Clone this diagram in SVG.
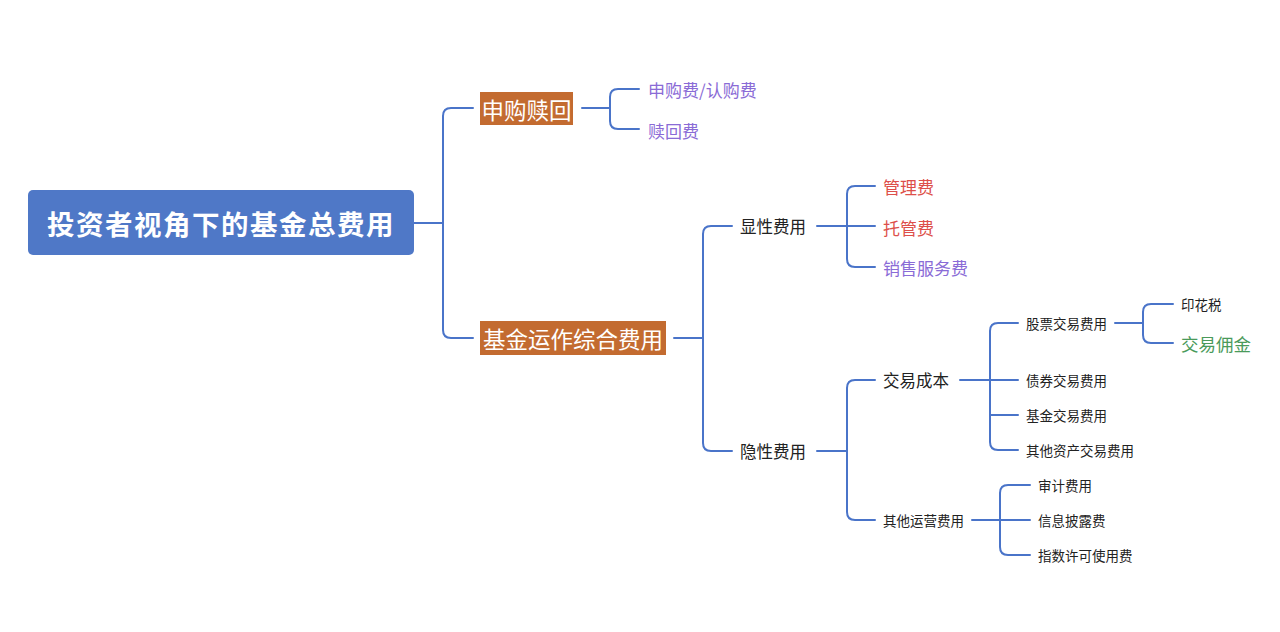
<svg xmlns="http://www.w3.org/2000/svg" width="1280" height="632" viewBox="0 0 1280 632">
<style>
.ln{fill:none;stroke:#4a74c9;stroke-width:2;stroke-linecap:round;stroke-linejoin:round}
text{font-family:"Noto Sans CJK SC","Liberation Sans",sans-serif;dominant-baseline:central}
.root{fill:#fff;font-size:27.5px;font-weight:bold;letter-spacing:1.5px}
.l1{fill:#fff;font-size:22.5px}
.l2{fill:#222;font-size:16.5px}
.l3{fill:#222;font-size:13.5px}
.pur{fill:#8a6bd6;font-size:17px}
.red{fill:#dd4f4a;font-size:17px}
.grn{fill:#4a9a5a;font-size:17.5px}
</style>
<rect width="1280" height="632" fill="#fff"/>
<g id="connectors">
<path class="ln" d="M414 223H443"/>
<path class="ln" d="M473 108H451Q443 108 443 116V330Q443 338 451 338H473"/>
<path class="ln" d="M582 108H610"/>
<path class="ln" d="M639 89H618Q610 89 610 97V121Q610 129 618 129H639"/>
<path class="ln" d="M674 338H703"/>
<path class="ln" d="M732 226H711Q703 226 703 234V443Q703 451 711 451H732"/>
<path class="ln" d="M817 226H875"/>
<path class="ln" d="M875 186H855Q847 186 847 194V259Q847 267 855 267H875"/>
<path class="ln" d="M817 451H847"/>
<path class="ln" d="M875 380H855Q847 380 847 388V512Q847 520 855 520H875"/>
<path class="ln" d="M960 380H1018"/>
<path class="ln" d="M1018 323H998Q990 323 990 331V442Q990 450 998 450H1018"/>
<path class="ln" d="M990 415H1018"/>
<path class="ln" d="M1115 323H1143"/>
<path class="ln" d="M1173 304H1151Q1143 304 1143 312V335Q1143 343 1151 343H1173"/>
<path class="ln" d="M972 520H1030"/>
<path class="ln" d="M1030 485H1008Q1000 485 1000 493V547Q1000 555 1008 555H1030"/>
</g>
<g id="root">
<rect x="28" y="190" width="386" height="65" rx="5" fill="#4f78c7"/>
<text class="root" x="221" y="223" text-anchor="middle">投资者视角下的基金总费用</text>
</g>
<g id="n-shengou">
<rect x="480" y="92" width="93" height="33" fill="#c36b30"/>
<text class="l1" x="526.5" y="108.5" text-anchor="middle">申购赎回</text>
</g>
<g id="n-sgf"><text class="pur" x="648" y="89">申购费/认购费</text></g>
<g id="n-shf"><text class="pur" x="648" y="130">赎回费</text></g>
<g id="n-yunzuo">
<rect x="480" y="321" width="186" height="34" fill="#c36b30"/>
<text class="l1" x="573" y="338" text-anchor="middle">基金运作综合费用</text>
</g>
<g id="n-xianxing"><text class="l2" x="740" y="226">显性费用</text></g>
<g id="n-glf"><text class="red" x="883" y="186">管理费</text></g>
<g id="n-tgf"><text class="red" x="883" y="227">托管费</text></g>
<g id="n-xsfwf"><text class="pur" x="883" y="267">销售服务费</text></g>
<g id="n-yinxing"><text class="l2" x="740" y="451">隐性费用</text></g>
<g id="n-jycb"><text class="l2" x="883" y="380">交易成本</text></g>
<g id="n-gpjy"><text class="l3" x="1026" y="323">股票交易费用</text></g>
<g id="n-yhs"><text class="l3" x="1181" y="304">印花税</text></g>
<g id="n-jyyj"><text class="grn" x="1181" y="343">交易佣金</text></g>
<g id="n-zqjy"><text class="l3" x="1026" y="380">债券交易费用</text></g>
<g id="n-jjjy"><text class="l3" x="1026" y="415">基金交易费用</text></g>
<g id="n-qtzc"><text class="l3" x="1026" y="450">其他资产交易费用</text></g>
<g id="n-qtyy"><text class="l3" x="883" y="520">其他运营费用</text></g>
<g id="n-sjfy"><text class="l3" x="1038" y="485">审计费用</text></g>
<g id="n-xxpl"><text class="l3" x="1038" y="520">信息披露费</text></g>
<g id="n-zsxk"><text class="l3" x="1038" y="555">指数许可使用费</text></g>
</svg>
